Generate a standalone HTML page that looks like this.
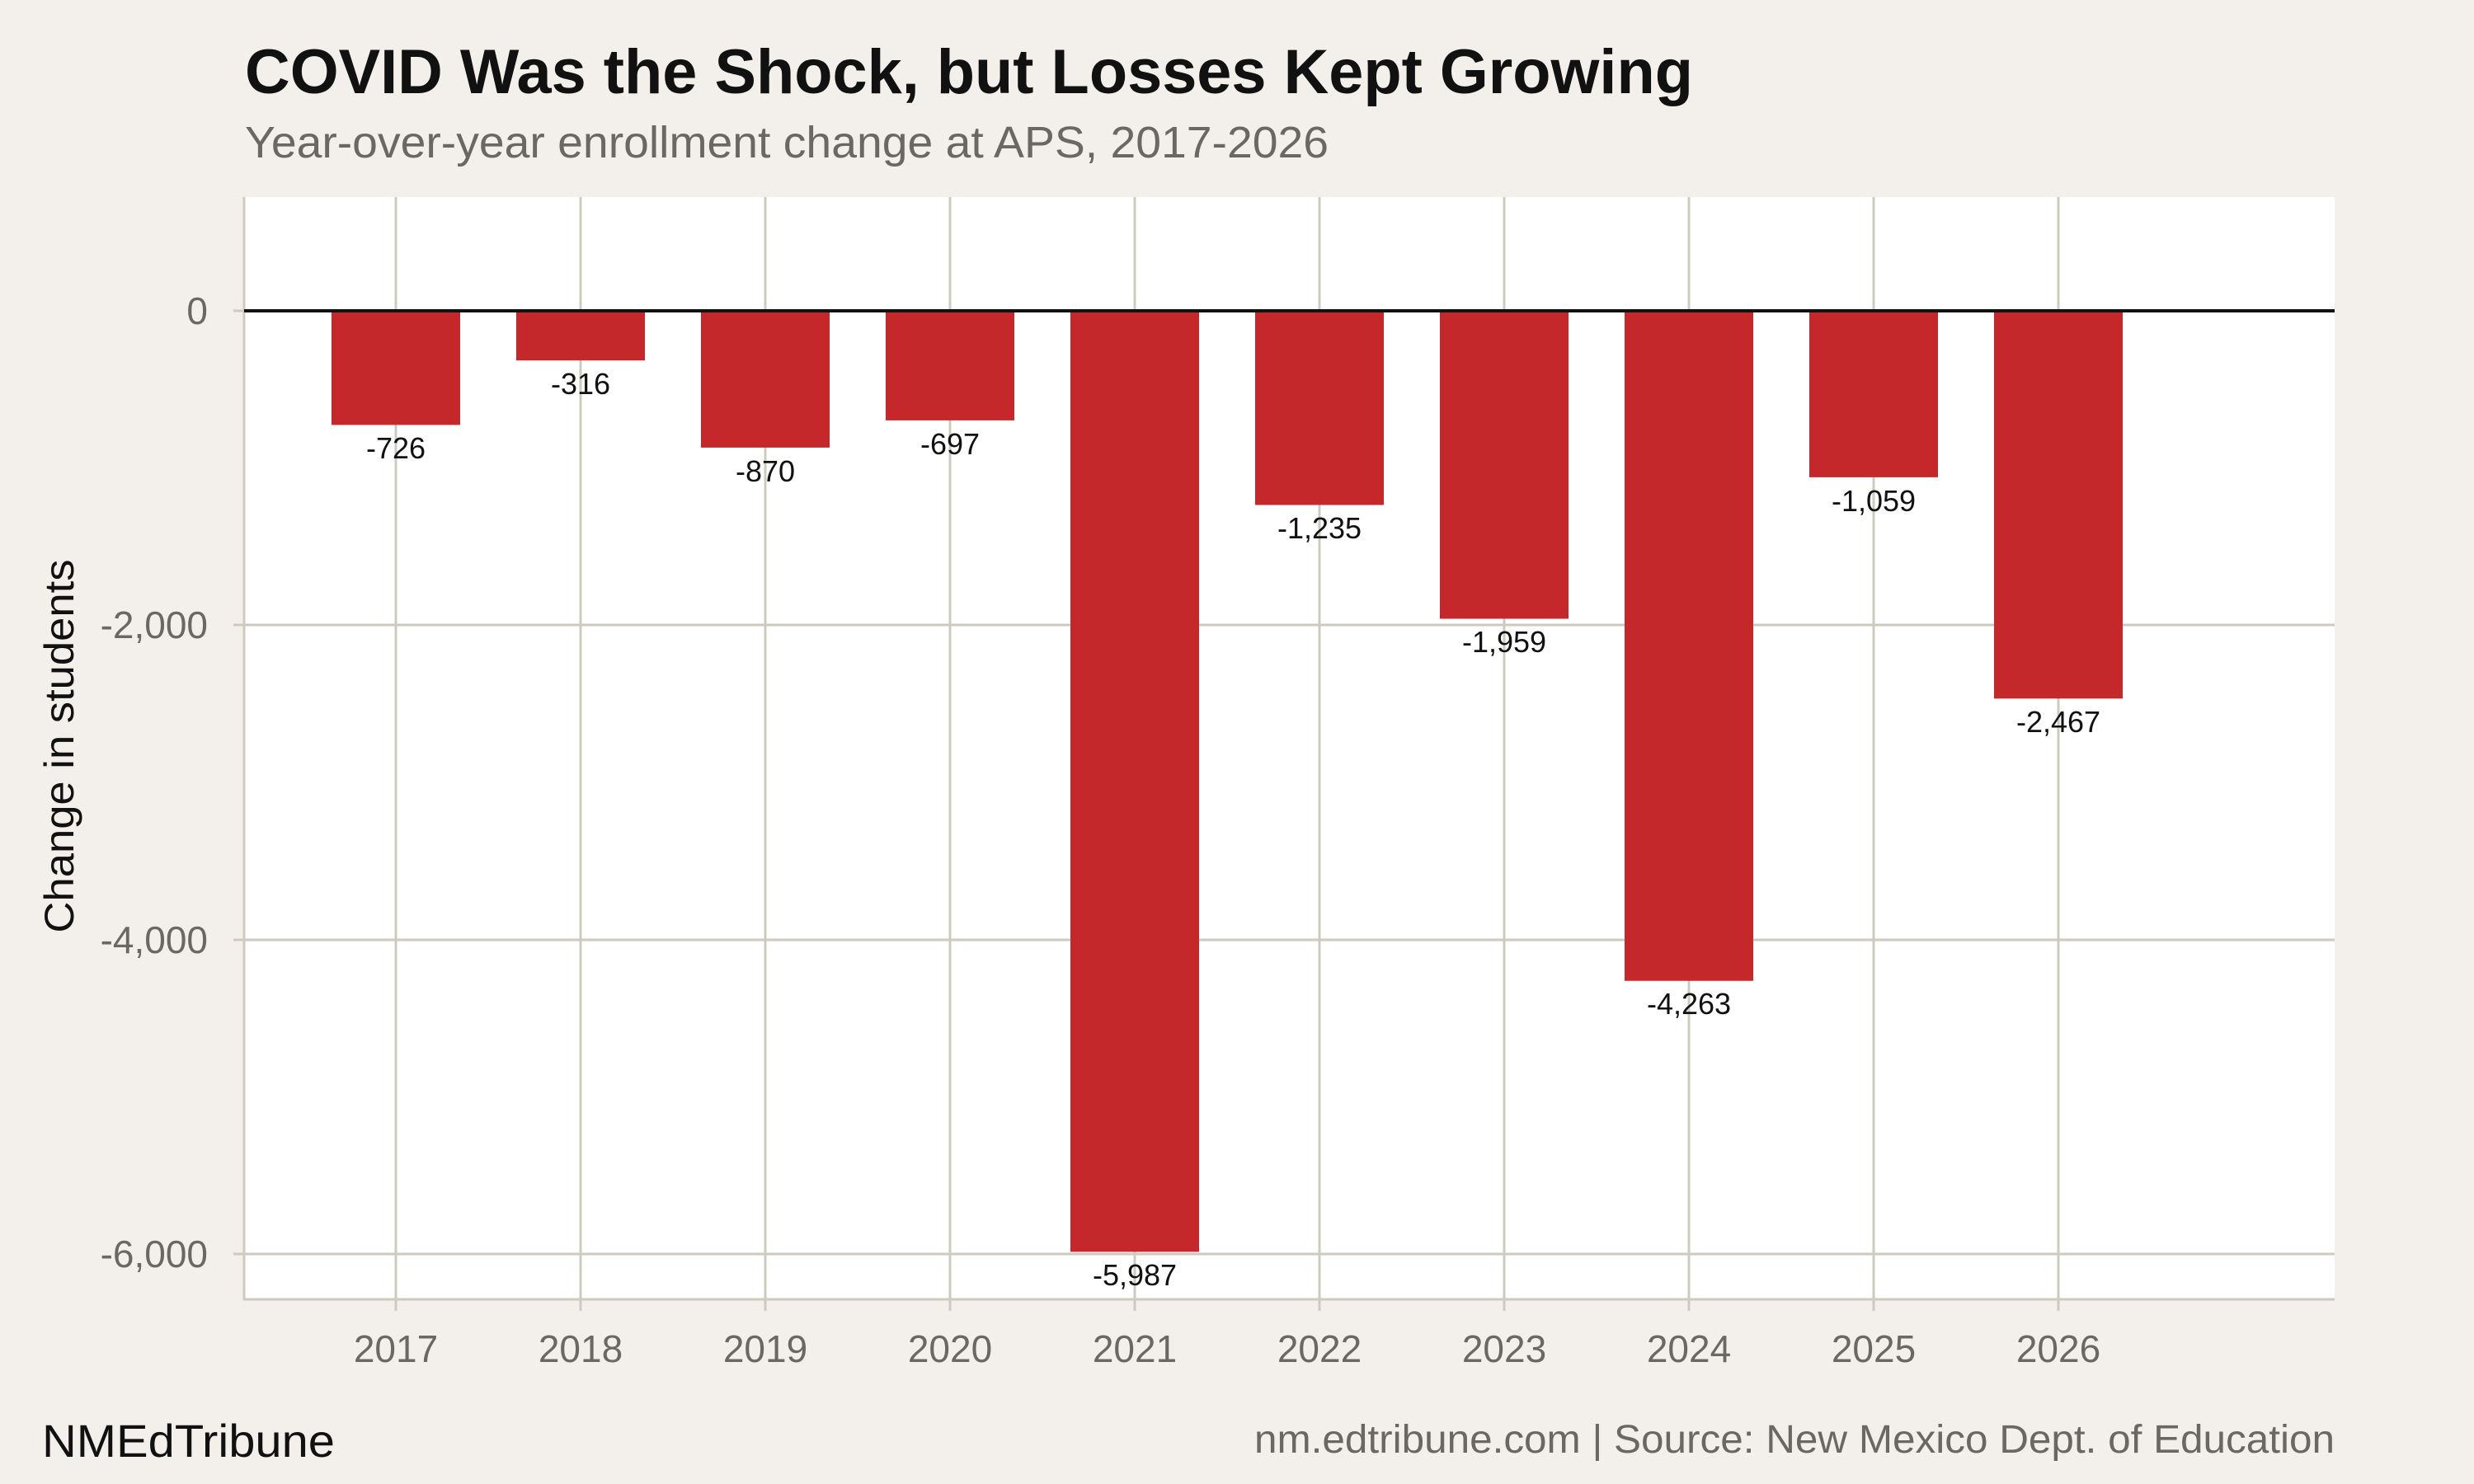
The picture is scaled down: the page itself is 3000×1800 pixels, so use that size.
<!DOCTYPE html>
<html><head><meta charset="utf-8"><style>html,body{margin:0;padding:0;background:#f3f0eb}svg{display:block}</style></head>
<body>
<svg width="3000" height="1800" viewBox="0 0 3000 1800" xmlns="http://www.w3.org/2000/svg" font-family="Liberation Sans, Arial, sans-serif">
<rect width="3000" height="1800" fill="#f3f0eb"/>
<text x="297" y="113" font-size="76" font-weight="bold" fill="#111" textLength="1756" lengthAdjust="spacingAndGlyphs">COVID Was the Shock, but Losses Kept Growing</text>
<text x="297" y="191" font-size="54" fill="#6b6862" textLength="1314" lengthAdjust="spacingAndGlyphs">Year-over-year enrollment change at APS, 2017-2026</text>
<rect x="296" y="239" width="2535" height="1337" fill="#fff"/>
<g stroke="#cfcac0" stroke-width="3">
<line x1="296" y1="758" x2="2831" y2="758"/><line x1="296" y1="1140" x2="2831" y2="1140"/><line x1="296" y1="1521" x2="2831" y2="1521"/>
<line x1="480" y1="239" x2="480" y2="1590"/><line x1="704" y1="239" x2="704" y2="1590"/><line x1="928" y1="239" x2="928" y2="1590"/><line x1="1152" y1="239" x2="1152" y2="1590"/><line x1="1376" y1="239" x2="1376" y2="1590"/><line x1="1600" y1="239" x2="1600" y2="1590"/><line x1="1824" y1="239" x2="1824" y2="1590"/><line x1="2048" y1="239" x2="2048" y2="1590"/><line x1="2272" y1="239" x2="2272" y2="1590"/><line x1="2496" y1="239" x2="2496" y2="1590"/>
<line x1="283" y1="377" x2="296" y2="377"/><line x1="283" y1="758" x2="296" y2="758"/><line x1="283" y1="1140" x2="296" y2="1140"/><line x1="283" y1="1521" x2="296" y2="1521"/>
<line x1="296" y1="239" x2="296" y2="1577"/><line x1="295" y1="1576" x2="2831" y2="1576"/>
</g>
<g fill="#c5282a">
<rect x="402" y="377" width="156" height="138.4"/>
<rect x="626" y="377" width="156" height="60.2"/>
<rect x="850" y="377" width="156" height="165.9"/>
<rect x="1074" y="377" width="156" height="132.9"/>
<rect x="1298" y="377" width="156" height="1141.4"/>
<rect x="1522" y="377" width="156" height="235.5"/>
<rect x="1746" y="377" width="156" height="373.5"/>
<rect x="1970" y="377" width="156" height="812.7"/>
<rect x="2194" y="377" width="156" height="201.9"/>
<rect x="2418" y="377" width="156" height="470.3"/>
</g>
<line x1="296" y1="377" x2="2831" y2="377" stroke="#111" stroke-width="4"/>
<g font-size="36" fill="#111" text-anchor="middle">
<text x="480" y="556">-726</text><text x="704" y="478">-316</text><text x="928" y="584">-870</text><text x="1152" y="551">-697</text><text x="1376" y="1559">-5,987</text><text x="1600" y="653">-1,235</text><text x="1824" y="791">-1,959</text><text x="2048" y="1230">-4,263</text><text x="2272" y="620">-1,059</text><text x="2496" y="888">-2,467</text>
</g>
<g font-size="46" fill="#6b6862" text-anchor="end">
<text x="252" y="393">0</text><text x="252" y="774">-2,000</text><text x="252" y="1156">-4,000</text><text x="252" y="1537">-6,000</text>
</g>
<g font-size="46" fill="#6b6862" text-anchor="middle">
<text x="480" y="1652">2017</text><text x="704" y="1652">2018</text><text x="928" y="1652">2019</text><text x="1152" y="1652">2020</text><text x="1376" y="1652">2021</text><text x="1600" y="1652">2022</text><text x="1824" y="1652">2023</text><text x="2048" y="1652">2024</text><text x="2272" y="1652">2025</text><text x="2496" y="1652">2026</text>
</g>
<text transform="translate(89,905) rotate(-90)" font-size="50" fill="#111" text-anchor="middle" textLength="453" lengthAdjust="spacingAndGlyphs">Change in students</text>
<text x="51" y="1767" font-size="56" fill="#111" textLength="355" lengthAdjust="spacingAndGlyphs">NMEdTribune</text>
<text x="2831" y="1762" font-size="48" fill="#6b6862" text-anchor="end" textLength="1310" lengthAdjust="spacingAndGlyphs">nm.edtribune.com | Source: New Mexico Dept. of Education</text>
</svg>
</body></html>
